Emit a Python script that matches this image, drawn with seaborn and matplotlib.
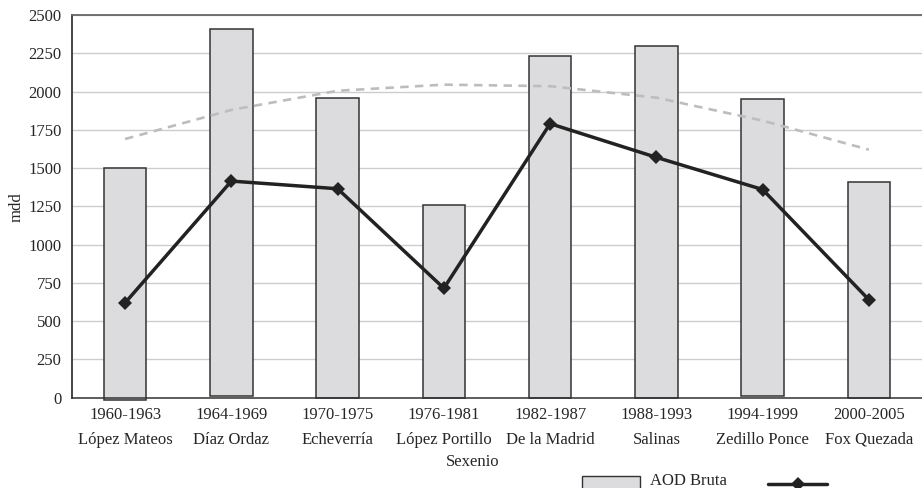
import numpy as np
import pandas as pd
import matplotlib
matplotlib.use("Agg")
import matplotlib.pyplot as plt
import seaborn as sns
from matplotlib.patches import Rectangle
from matplotlib.lines import Line2D

# ---- data ----
years = ["1960-1963", "1964-1969", "1970-1975", "1976-1981",
         "1982-1987", "1988-1993", "1994-1999", "2000-2005"]
presidents = ["López Mateos", "Díaz Ordaz", "Echeverría", "López Portillo",
              "De la Madrid", "Salinas", "Zedillo Ponce", "Fox Quezada"]
aod_bruta = [1500, 2410, 1955, 1260, 2235, 2300, 1952, 1411]
bar_base = [-15, 8, 0, -3, 0, 0, 8, 0]
line_values = [620, 1415, 1365, 715, 1790, 1570, 1360, 640]
trend_values = [1690, 1880, 2005, 2045, 2035, 1960, 1810, 1620]
y_ticks = [0, 250, 500, 750, 1000, 1250, 1500, 1750, 2000, 2250, 2500]

labels = [f"{y}\n{p}" for y, p in zip(years, presidents)]
df = pd.DataFrame({"cat": labels, "aod": aod_bruta, "line": line_values,
                   "trend": trend_values, "pos": np.arange(len(labels))})

sns.set_style("white")
plt.rcParams["font.family"] = ["Liberation Serif", "DejaVu Serif"]
FS = 12

W, H = 922, 488
fig = plt.figure(figsize=(W / 100, H / 100), dpi=100)
ax = fig.add_axes([72 / W, 1 - 397.7 / H, 850 / W, (397.7 - 15) / H])

# bars
sns.barplot(data=df, x="cat", y="aod", color="#dcdcde", edgecolor="#333333",
            linewidth=1.1, width=0.4, saturation=1, ax=ax, zorder=2)
for p, b, top in zip(ax.patches, bar_base, aod_bruta):
    p.set_y(b)
    p.set_height(top - b)
    p.set_clip_on(False)

# trend (dashed)
sns.lineplot(data=df, x="pos", y="trend", color="#bdbdbd", linewidth=1.9,
             dashes=False, ax=ax, zorder=3, linestyle=(0, (3.2, 2.4)))
# main series
sns.lineplot(data=df, x="pos", y="line", color="#222222", linewidth=2.5,
             marker="D", markersize=7.5, markeredgewidth=0, ax=ax, zorder=4)

ax.set_xlim(-0.5, 7.5)
ax.set_ylim(0, 2500)
ax.set_yticks(y_ticks)
ax.set_yticklabels([str(v) for v in y_ticks])
ax.yaxis.grid(True, color="#cdcdcd", linewidth=1.0)
ax.xaxis.grid(False)
ax.set_axisbelow(True)

# x ticks: marks at boundaries, labels at centers
ax.set_xticks(np.arange(-0.5, 7.0, 1.0))
ax.set_xticklabels([])
ax.set_xticks(np.arange(len(labels)), minor=True)
ax.set_xticklabels(labels, minor=True, fontsize=FS, linespacing=1.68)
ax.tick_params(axis="x", which="major", direction="inout", length=11.5,
               width=1.0, color="#222222")
ax.tick_params(axis="x", which="minor", length=0, pad=7)
ax.tick_params(axis="y", direction="inout", length=9, width=1.0,
               color="#333333", labelsize=FS, pad=3)
ax.set_xlabel("")
ax.set_ylabel("")

for s in ["left", "bottom", "top"]:
    ax.spines[s].set_visible(True)
ax.spines["left"].set_color("#444444")
ax.spines["left"].set_linewidth(1.4)
ax.spines["bottom"].set_color("#333333")
ax.spines["bottom"].set_linewidth(1.1)
ax.spines["top"].set_color("#666666")
ax.spines["top"].set_linewidth(1.3)
ax.spines["right"].set_visible(False)

# axis titles
fig.text(17 / W, 1 - 207 / H, "mdd", rotation=90, ha="center", va="center",
         fontsize=FS)
fig.text(473 / W, 1 - 462 / H, "Sexenio", ha="center", va="center",
         fontsize=FS)

# legend (partially cut at the bottom like the reference)
fig.add_artist(Rectangle((582 / W, -20 / H), 58 / W, (488 - 476 + 20) / H,
                         transform=fig.transFigure, facecolor="#dcdcde",
                         edgecolor="#333333", linewidth=1.0))
fig.text(650 / W, 1 - 481 / H, "AOD Bruta", ha="left", va="center",
         fontsize=FS)
fig.add_artist(Line2D([768 / W, 827 / W], [1 - 484 / H, 1 - 484 / H],
                      transform=fig.transFigure, color="#222222",
                      linewidth=2.5))
fig.add_artist(Line2D([797.5 / W], [1 - 484 / H], transform=fig.transFigure,
                      color="#222222", marker="D", markersize=7.5,
                      markeredgewidth=0, linestyle="none"))

fig.savefig("out.png", dpi=100)
